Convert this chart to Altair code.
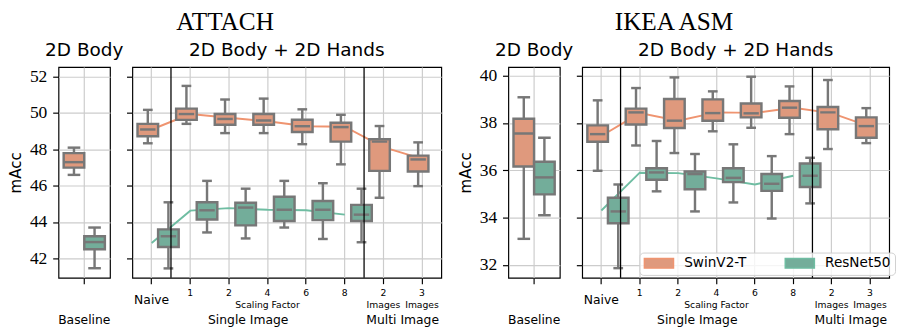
import altair as alt
import pandas as pd

SERIES = ["SwinV2-T", "ResNet50"]
BOX_COLORS = ["#df997d", "#73ad9a"]
LINE_COLORS = ["#ef9470", "#6fbda2"]
EDGE = "#777777"
GRID = "#cccccc"
SANS = "DejaVu Sans"
SERIF = "Liberation Serif"

BASE_CATS = ["Baseline"]
MAIN_CATS = ["Naive", "1", "2", "4", "6", "8", "2img", "3img"]
RES_CATS = ["Naive", "1", "2", "4", "6", "8"]

# box statistics: whisker low, Q1, median, Q3, whisker high
att_base_swin = [46.60, 47.00, 47.30, 47.80, 48.10]
att_base_res = [41.46, 42.50, 42.90, 43.22, 43.70]
att_swin = [
    [48.34, 48.73, 49.10, 49.41, 50.18],
    [49.41, 49.63, 49.95, 50.25, 51.50],
    [48.90, 49.36, 49.68, 49.95, 50.75],
    [48.90, 49.36, 49.59, 49.95, 50.80],
    [48.29, 48.96, 49.28, 49.64, 50.21],
    [47.18, 48.43, 49.23, 49.47, 49.91],
    [45.34, 46.82, 48.43, 48.56, 49.29],
    [45.98, 46.79, 47.45, 47.66, 48.39],
]
att_res = [
    [41.45, 42.63, 43.22, 43.60, 45.09],
    [43.43, 44.14, 44.65, 45.09, 46.27],
    [43.10, 43.82, 44.80, 45.07, 45.84],
    [43.70, 44.06, 44.68, 45.40, 46.27],
    [43.07, 44.11, 44.68, 45.16, 46.14],
    [42.89, 44.06, 44.41, 44.95, 45.84],
]
att_swin_line = [49.10, 49.95, 49.75, 49.55, 49.28, 49.25, 48.13, 47.48]
att_res_line = [42.85, 44.63, 44.77, 44.68, 44.65, 44.41]

ikea_base_swin = [33.10, 36.16, 37.56, 38.18, 39.09]
ikea_base_res = [34.10, 34.98, 35.70, 36.36, 37.38]
ikea_swin = [
    [35.98, 37.21, 37.53, 37.90, 38.96],
    [37.05, 37.94, 38.45, 38.61, 39.48],
    [36.73, 37.79, 38.10, 39.02, 39.93],
    [37.65, 38.10, 38.42, 39.00, 39.34],
    [37.80, 38.24, 38.41, 38.83, 39.96],
    [37.53, 38.22, 38.65, 38.93, 39.55],
    [36.90, 37.74, 38.45, 38.68, 39.82],
    [37.15, 37.38, 37.87, 38.24, 38.63],
]
ikea_res = [
    [31.86, 33.76, 34.26, 34.84, 35.40],
    [35.11, 35.60, 35.91, 36.09, 37.24],
    [34.26, 35.20, 35.84, 35.95, 36.69],
    [34.64, 35.50, 35.68, 36.09, 37.10],
    [33.96, 35.13, 35.43, 35.84, 36.60],
    [34.60, 35.29, 35.77, 36.29, 36.53],
]
ikea_swin_line = [37.45, 38.42, 38.10, 38.45, 38.43, 38.65, 38.42, 37.85]
ikea_res_line = [34.30, 35.90, 35.88, 35.66, 35.40, 35.77]

att_ydom = [40.93, 52.54]
att_yticks = [42, 44, 46, 48, 50, 52]
ikea_ydom = [31.45, 40.37]
ikea_yticks = [32, 34, 36, 38, 40]

# bottom label texts
digit_keys = ["1", "2", "4", "6", "8", "2img", "3img"]
digit_texts = ["1", "2", "4", "6", "8", "2", "3"]
small_keys = ["4", "2img", "3img"]
small_texts = ["Scaling Factor", "Images", "Images"]
group_keys = ["4", "3img"]
group_texts = ["Single Image", "Multi Image"]
separator_keys = ["1", "2img"]


def box_df(cats_swin, stats_swin, cats_res, stats_res):
    rows = []
    for s, cats, stats in [(SERIES[0], cats_swin, stats_swin), (SERIES[1], cats_res, stats_res)]:
        for c, st in zip(cats, stats):
            rows.append(dict(cat=c, series=s, wlo=st[0], q1=st[1], med=st[2], q3=st[3], whi=st[4]))
    return pd.DataFrame(rows)


def line_df(swin_vals, res_vals):
    rows = []
    for i, (c, v) in enumerate(zip(MAIN_CATS, swin_vals)):
        rows.append(dict(cat=c, series=SERIES[0], val=v, idx=i))
    for i, (c, v) in enumerate(zip(RES_CATS, res_vals)):
        rows.append(dict(cat=c, series=SERIES[1], val=v, idx=i))
    return pd.DataFrame(rows)


def text_layer(keys, texts, xs, xax, ypix, size, band=0.5):
    df = pd.DataFrame(dict(cat=keys, label=texts))
    return alt.Chart(df).mark_text(font=SANS, fontSize=size, baseline="middle", align="center",
                                   color="black").encode(
        x=alt.X("cat:N", scale=xs, axis=xax, title=None, bandPosition=band),
        y=alt.value(ypix),
        text="label:N",
    )


LEGEND = alt.Legend(orient="none", legendX=598, legendY=191, direction="horizontal", title=None,
                    symbolType="M-3,-1H3V1H-3Z", symbolSize=100, symbolStrokeColor=EDGE,
                    symbolStrokeWidth=1.5, symbolOffset=9, labelOffset=19, columnPadding=37,
                    padding=4, labelFont=SANS, labelFontSize=14, labelColor="black",
                    fillColor="rgba(255,255,255,0.8)", strokeColor="#d0d0d0", cornerRadius=4)


def panel(cats, boxes, lines, ydom, yticks, width, ylabels, title, box_w, cap_w, main):
    xs = alt.Scale(domain=cats, paddingInner=0, paddingOuter=0)
    xax = alt.Axis(labels=False, ticks=True, tickSize=6, tickColor="black", tickWidth=1.2,
                   grid=True, gridColor=GRID, gridWidth=1.2, domain=False, bandPosition=0.5, title=None)
    ys = alt.Scale(domain=ydom, nice=False, zero=False)
    if ylabels:
        yax = alt.Axis(values=yticks, grid=True, gridColor=GRID, gridWidth=1.2, domain=False,
                       tickSize=6, tickColor="black", tickWidth=1.2, labelFont=SERIF, labelFontSize=18,
                       labelColor="black", labelPadding=6, title="mAcc", titleFont=SANS,
                       titleFontSize=15.5, titleFontWeight="normal", titleColor="black", titlePadding=6)
    else:
        yax = alt.Axis(values=yticks, grid=True, gridColor=GRID, gridWidth=1.2, domain=False,
                       tickSize=6, tickColor="black", tickWidth=1.2, labels=False, title=None)
    X = alt.X("cat:N", scale=xs, axis=xax, title=None)
    XO = alt.XOffset("series:N", scale=alt.Scale(domain=SERIES, paddingInner=0, paddingOuter=0.25))
    ytitle = "mAcc" if ylabels else None

    layers = []
    if lines is not None:
        layers.append(alt.Chart(lines).mark_line(strokeWidth=2).encode(
            x=alt.X("cat:N", scale=xs, axis=xax, title=None, bandPosition=0.5),
            y=alt.Y("val:Q", scale=ys, axis=yax, title=ytitle),
            stroke=alt.Stroke("series:N", scale=alt.Scale(domain=SERIES, range=LINE_COLORS), legend=None),
            order="idx:Q"))
    b = alt.Chart(boxes)
    layers.append(b.mark_rule(color=EDGE, strokeWidth=2.5).encode(
        x=X, xOffset=XO, y=alt.Y("wlo:Q", scale=ys, axis=yax, title=ytitle), y2="whi:Q"))
    layers.append(b.mark_bar(stroke=EDGE, strokeWidth=2.5).encode(
        x=X, xOffset=XO, y=alt.Y("q1:Q", scale=ys, axis=yax, title=ytitle), y2="q3:Q",
        fill=alt.Fill("series:N", scale=alt.Scale(domain=SERIES, range=BOX_COLORS), legend=LEGEND)))
    for field, sz in [("med", box_w), ("wlo", cap_w), ("whi", cap_w)]:
        layers.append(b.mark_tick(color=EDGE, thickness=2.5, size=sz, orient="horizontal", opacity=1).encode(
            x=X, xOffset=XO, y=alt.Y(f"{field}:Q", scale=ys, axis=yax, title=ytitle)))
    if main:
        sep = pd.DataFrame(dict(cat=separator_keys))
        layers.append(alt.Chart(sep).mark_rule(color="black", strokeWidth=1.3).encode(
            x=alt.X("cat:N", scale=xs, axis=xax, title=None, bandPosition=0)))
        layers.append(text_layer(digit_keys, digit_texts, xs, xax, 233, 9.5))
        layers.append(text_layer(["Naive"], ["Naive"], xs, xax, 240, 12.7))
        layers.append(text_layer(small_keys, small_texts, xs, xax, 245, 9.5))
        layers.append(text_layer(group_keys, group_texts, xs, xax, 260, 12.7, band=0))
    else:
        layers.append(text_layer(["Baseline"], ["Baseline"], xs, xax, 260, 12.7))

    return alt.layer(*layers).properties(
        width=width, height=217,
        title=alt.TitleParams(title, font=SANS, fontSize=19, fontWeight="normal", color="black",
                              anchor="middle", baseline="alphabetic", offset=-8))


a_base = panel(BASE_CATS, box_df(BASE_CATS, [att_base_swin], BASE_CATS, [att_base_res]), None,
               att_ydom, att_yticks, 53, True, "2D Body", 21.2, 13, False)
a_main = panel(MAIN_CATS, box_df(MAIN_CATS, att_swin, RES_CATS, att_res), line_df(att_swin_line, att_res_line),
               att_ydom, att_yticks, 318, False, "2D Body + 2D Hands", 15.9, 10, True)
b_base = panel(BASE_CATS, box_df(BASE_CATS, [ikea_base_swin], BASE_CATS, [ikea_base_res]), None,
               ikea_ydom, ikea_yticks, 53, True, "2D Body", 21.2, 13, False)
b_main = panel(MAIN_CATS, box_df(MAIN_CATS, ikea_swin, RES_CATS, ikea_res), line_df(ikea_swin_line, ikea_res_line),
               ikea_ydom, ikea_yticks, 316, False, "2D Body + 2D Hands", 15.8, 10, True)

att = alt.hconcat(a_base, a_main, spacing=23, bounds="flush").properties(
    title=alt.TitleParams("ATTACH", font=SERIF, fontSize=26, fontWeight="normal", color="black",
                          anchor="middle", baseline="alphabetic", offset=-15))
ikea = alt.hconcat(b_base, b_main, spacing=23, bounds="flush").properties(
    title=alt.TitleParams("IKEA ASM", font=SERIF, fontSize=26, fontWeight="normal", color="black",
                          anchor="middle", baseline="alphabetic", offset=-15))

chart = alt.hconcat(att, ikea, spacing=16).properties(
    padding={"left": 0, "top": -4, "right": 0, "bottom": 0}
).configure_view(stroke="black", strokeWidth=1.2)

chart.save("out.html", embed_options={"renderer": "svg", "actions": False})
